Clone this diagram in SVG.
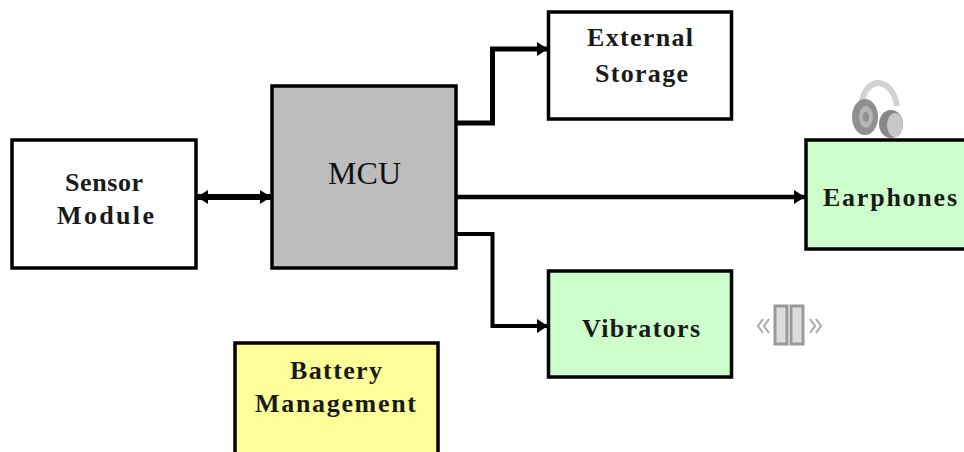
<svg xmlns="http://www.w3.org/2000/svg" width="964" height="452" viewBox="0 0 964 452">
<defs>
<marker id="arr" markerUnits="userSpaceOnUse" markerWidth="12" markerHeight="14" refX="11" refY="7" orient="auto-start-reverse"><path d="M0,0 L11,7 L0,14 Z" fill="#000"/></marker>
</defs>
<style>
.box{stroke:#000;stroke-width:3.5}
.lbl{font-family:"Liberation Serif",serif;font-weight:bold;font-size:26px;fill:#1a1a1a}
.wire{fill:none;stroke:#000}
</style>
<rect width="964" height="452" fill="#fff"/>
<g id="connectors">
<path class="wire" stroke-width="5" d="M457,123 H492.500 V49 H548" marker-end="url(#arr)"/>
<path class="wire" stroke-width="4.500" d="M457,197 H805" marker-end="url(#arr)"/>
<path class="wire" stroke-width="4" d="M457,234 H492.500 V326 H548" marker-end="url(#arr)"/>
<path class="wire" stroke-width="6" d="M197,197 H271" marker-start="url(#arr)" marker-end="url(#arr)"/>
</g>
<g id="sensor"><rect class="box" x="12" y="140" width="184" height="128" fill="#fff"/><text class="lbl" x="65" y="191" textLength="78">Sensor</text><text class="lbl" x="57" y="224" textLength="97">Module</text></g>
<g id="mcu"><rect class="box" x="272" y="86" width="184" height="182" fill="#bdbdbd"/><text x="328" y="184" font-family="Liberation Serif, serif" font-size="32" fill="#111" textLength="73">MCU</text></g>
<g id="storage"><rect class="box" x="548.500" y="12" width="183" height="107" fill="#fff"/><text class="lbl" x="587" y="46" textLength="106">External</text><text class="lbl" x="595" y="82" textLength="93">Storage</text></g>
<g id="headphones-icon">
<path d="M862,102 C866,76 892,76 897,106" fill="none" stroke="#d2d2d2" stroke-width="6"/>
<ellipse cx="865" cy="117" rx="13" ry="18" fill="#8f8f8f"/><ellipse cx="866" cy="117" rx="7" ry="11" fill="#b5b5b5"/><ellipse cx="866" cy="117" rx="3" ry="5" fill="#8f8f8f"/>
<ellipse cx="891" cy="124" rx="12" ry="14" fill="#888"/><ellipse cx="895" cy="125" rx="8" ry="12" fill="#c8c8c8"/>
</g>
<g id="earphones"><rect class="box" x="806" y="140" width="160" height="109" fill="#ccffcc"/><text class="lbl" x="823" y="206" textLength="134">Earphones</text></g>
<g id="vibrators"><rect class="box" x="548.500" y="271" width="183" height="106" fill="#ccffcc"/><text class="lbl" x="582" y="337" textLength="118">Vibrators</text></g>
<g id="battery"><rect class="box" x="235" y="343" width="203" height="112" fill="#ffff99"/><text class="lbl" x="290" y="379" textLength="92">Battery</text><text class="lbl" x="255" y="412" textLength="161">Management</text></g>
<g id="vibrate-icon">
<rect x="775" y="306" width="12" height="38" fill="#ddd" stroke="#999" stroke-width="3"/>
<rect x="791" y="306" width="12" height="38" fill="#ddd" stroke="#999" stroke-width="3"/>
<path d="M763,319 L758,326 L763,333 M769,319 L764,326 L769,333 M810,319 L815,326 L810,333 M816,319 L821,326 L816,333" fill="none" stroke="#aaa" stroke-width="2"/>
</g>
</svg>
